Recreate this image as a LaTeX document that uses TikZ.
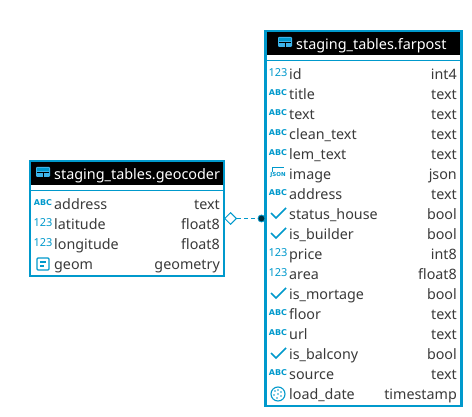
\documentclass[tikz,border=0pt]{standalone}
\usepackage{fontspec}
\setmainfont{Noto Sans}
\newfontfamily\iconfont{DejaVu Sans}
\usetikzlibrary{shapes.geometric}
\definecolor{dbblue}{HTML}{0099CC}
\definecolor{dbtext}{HTML}{3A3A3A}
\definecolor{dbsky}{HTML}{3DB4EA}
\tikzset{
  x=1pt,y=-1pt,
  tablebox/.style={draw=dbblue,line width=2.4pt,fill=white,inner sep=0pt,minimum width=#1},
  headtext/.style={text=white,font=\fontsize{14.4}{14.4}\selectfont,anchor=base west,inner sep=0pt},
  colname/.style={text=dbtext,font=\fontsize{14.3}{14.3}\selectfont,anchor=base west,inner sep=0pt},
  coltype/.style={text=dbtext,font=\fontsize{14.3}{14.3}\selectfont,anchor=base east,inner sep=0pt},
  iconabc/.style={text=dbblue,font=\iconfont\fontsize{8}{8}\selectfont\bfseries,inner sep=0pt},
  iconnum/.style={text=dbblue,font=\fontsize{11}{11}\selectfont,inner sep=0pt},
  iconjson/.style={text=dbblue,font=\iconfont\fontsize{5.5}{5.5}\selectfont\bfseries,inner sep=0pt},
  iconline/.style={draw=dbblue,line width=1.5pt},
  sepline/.style={draw=dbblue,line width=1pt},
}
% #1 name prefix, #2 x of name, #3 x of type end, #4 y centre, #5 name, #6 type
\newcommand{\colrow}[6]{%
  \node[colname] (#1n) at (#2,#4+5.8) {#5};
  \node[coltype] (#1t) at (#3,#4+5.8) {#6};
}
\newcommand{\iabc}[2]{\node[iconabc] at (#1,#2-1.5) {ABC};}
\newcommand{\inum}[2]{\node[iconnum] at (#1,#2-1.5) {123};}
\newcommand{\ichk}[2]{\draw[iconline] (#1-7,#2-1) -- (#1-2,#2+4) -- (#1+8,#2-6);}
\newcommand{\itbl}[2]{%
  \fill[dbsky,rounded corners=1pt] (#1-7,#2-6) rectangle (#1+7,#2+4);
  \fill[black] (#1-6,#2-1) rectangle (#1+6,#2);
  \fill[black] (#1-0.5,#2-1) rectangle (#1+0.5,#2+4);
  \fill[dbblue] (#1-6,#2-5) rectangle (#1+6,#2-2);
}
\begin{document}
\begin{tikzpicture}
\useasboundingbox (0,0) rectangle (472,417);
\fill[white] (0,0) rectangle (472,417);
% geocoder table
\node[tablebox=194pt,minimum height=115pt] (geo) at (127,218.5) {};
\fill[black] (31,162) rectangle (223,185);
\draw[sepline] (31,190.5) -- (223,190.5);
\itbl{43}{173}
\node[headtext] (geoh) at (54,179.8) {staging\_tables.geocoder};
\iabc{43}{204}\colrow{ga}{54}{220}{204}{address}{text}
\inum{43}{224}\colrow{gb}{54}{220}{224}{latitude}{float8}
\inum{43}{244}\colrow{gc}{54}{220}{244}{longitude}{float8}
\draw[dbblue,line width=1.4pt,rounded corners=1pt] (37,258) rectangle (49,270);
\draw[dbblue,line width=1.3pt] (40,262) -- (46,262) (40,266) -- (44,266);
\colrow{gd}{54}{220}{264}{geom}{geometry}
% farpost table
\node[tablebox=196pt,minimum height=375pt] (far) at (363.5,218.5) {};
\fill[black] (267,32) rectangle (460,55);
\draw[sepline] (267,60.5) -- (460,60.5);
\itbl{285}{43}
\node[headtext] (farh) at (296,49.8) {staging\_tables.farpost};
\inum{278}{74}\colrow{fa}{289}{457}{74}{id}{int4}
\iabc{278}{94}\colrow{fb}{289}{457}{94}{title}{text}
\iabc{278}{114}\colrow{fc}{289}{457}{114}{text}{text}
\iabc{278}{134}\colrow{fd}{289}{457}{134}{clean\_text}{text}
\iabc{278}{154}\colrow{fe}{289}{457}{154}{lem\_text}{text}
\node[iconjson] at (278,175.5) {JSON};
\draw[dbblue,line width=0.8pt] (272,172) -- (272,167) -- (284,167);
\colrow{ff}{289}{457}{174}{image}{json}
\iabc{278}{194}\colrow{fg}{289}{457}{194}{address}{text}
\ichk{278}{214}\colrow{fh}{289}{457}{214}{status\_house}{bool}
\ichk{278}{234}\colrow{fi}{289}{457}{234}{is\_builder}{bool}
\inum{278}{254}\colrow{fj}{289}{457}{254}{price}{int8}
\inum{278}{274}\colrow{fk}{289}{457}{274}{area}{float8}
\ichk{278}{294}\colrow{fl}{289}{457}{294}{is\_mortage}{bool}
\iabc{278}{314}\colrow{fm}{289}{457}{314}{floor}{text}
\iabc{278}{334}\colrow{fn}{289}{457}{334}{url}{text}
\ichk{278}{354}\colrow{fo}{289}{457}{354}{is\_balcony}{bool}
\iabc{278}{374}\colrow{fp}{289}{457}{374}{source}{text}
\draw[dbblue,line width=1.1pt] (278,394) circle (7);
\foreach \a/\b in {-3/-3,0/-4,3/-2,-4/1,0/0,3/2,-1/4}{\fill[dbblue] (278+\a,394+\b) circle (0.8);}
\colrow{fq}{289}{457}{394}{load\_date}{timestamp}
% connector
\node[diamond,draw=dbblue,fill=white,line width=1pt,minimum width=12pt,minimum height=12pt,inner sep=0pt] (dm) at (230.5,218.5) {};
\node[circle,fill=black!70!dbblue,draw=dbblue,line width=0.8pt,minimum size=7pt,inner sep=0pt] (dt) at (261.5,218.5) {};
\draw[dbblue,line width=1pt,dash pattern=on 4pt off 3pt] (dm) -- (dt);
\end{tikzpicture}
\end{document}
